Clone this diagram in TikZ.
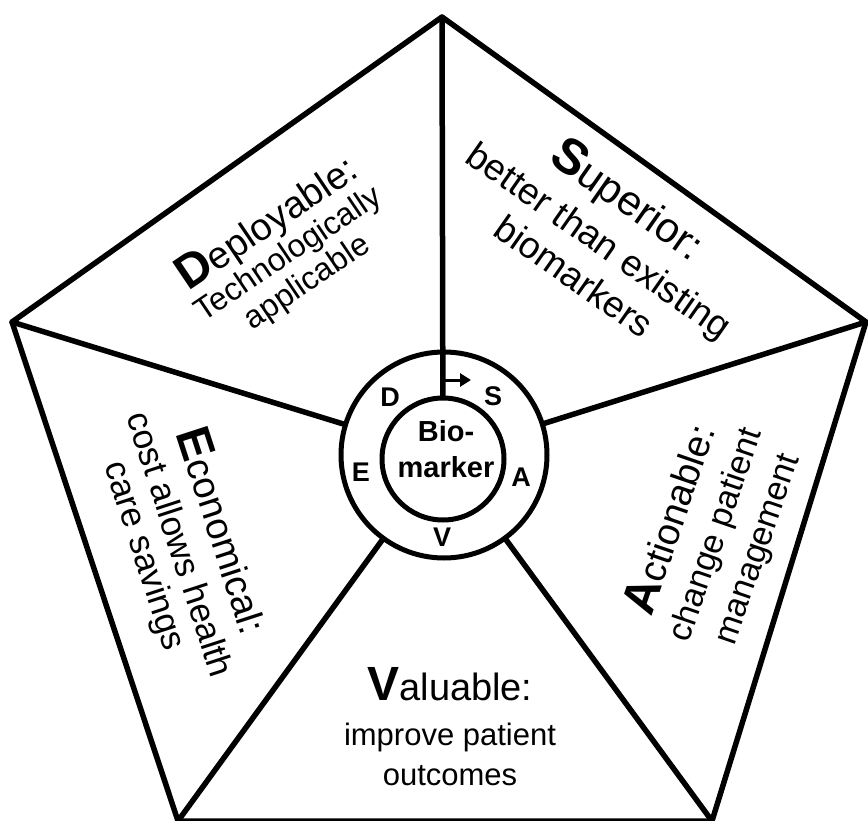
\documentclass[tikz,border=0pt]{standalone}
\usepackage{fontspec}
\setmainfont{Liberation Sans}
\usetikzlibrary{arrows.meta}
\newcommand\hdtxt[2]{{\fontsize{48}{48}\selectfont\bfseries #1}{\fontsize{38}{40}\selectfont #2}}
\newcommand\hdbig[2]{{\fontsize{50}{50}\selectfont\bfseries #1}{\fontsize{42}{44}\selectfont #2}}
\begin{document}
\begin{tikzpicture}[x=1pt,y=-1pt,
  edge/.style={line width=5.5pt, line join=round, line cap=round},
  ringc/.style={circle, draw, line width=5pt, inner sep=0pt},
  block/.style={align=center, inner sep=0pt},
  ringletter/.style={font=\fontsize{27}{27}\selectfont\bfseries, inner sep=0pt},
  biotext/.style={font=\fontsize{29}{36}\selectfont\bfseries, align=center, inner sep=0pt}]
\path[use as bounding box] (0,0) rectangle (868,821);
\coordinate (T) at (442,17);
\coordinate (L) at (12,322);
\coordinate (R) at (866,322);
\coordinate (BL) at (178,821);
\coordinate (BR) at (712,821);
\node[ringc, minimum size=206pt] (ring) at (444,455) {};
\node[ringc, minimum size=122pt] (core) at (443,459) {};
\draw[edge] (T) -- (L) -- (BL) -- (BR) -- (R) -- cycle;
\draw[edge] (ring) -- (L);
\draw[edge] (ring) -- (R);
\draw[edge] (ring) -- (BL);
\draw[edge] (ring) -- (BR);
\draw[edge] (T) -- (core);
\coordinate (a0) at (443,380);
\coordinate (a1) at (471,380);
\draw[line width=3pt, -{Triangle[length=11pt,width=13pt]}] (a0) -- (a1);
\node[block, rotate=34, font=\fontsize{32}{34}\selectfont] (dep) at (286,251)
  {\hdtxt{D}{eployable:}\\Technologically\\applicable};
\node[block, rotate=-35, font=\fontsize{37}{44}\selectfont] (sup) at (603,235)
  {\hdbig{S}{uperior:}\\[4pt]better than existing\\biomarkers};
\node[block, rotate=-72, font=\fontsize{35}{36}\selectfont] (eco) at (184,543)
  {\hdtxt{E}{conomical:}\\[6pt]cost allows health\\care savings};
\node[block, rotate=71, font=\fontsize{34}{44}\selectfont] (act) at (713,534)
  {\hdtxt{A}{ctionable:}\\change patient\\management};
\node[block, font=\fontsize{31}{40}\selectfont] (val) at (450,727)
  {\hdtxt{V}{aluable:}\\[5pt]improve patient\\outcomes};
\node[biotext] (bio) at (446,449) {Bio-\\marker};
\node[ringletter] (lD) at (390,397) {D};
\node[ringletter] (lS) at (493,396) {S};
\node[ringletter] (lE) at (361,472) {E};
\node[ringletter] (lA) at (521,477) {A};
\node[ringletter] (lV) at (442,537) {V};
\end{tikzpicture}
\end{document}
